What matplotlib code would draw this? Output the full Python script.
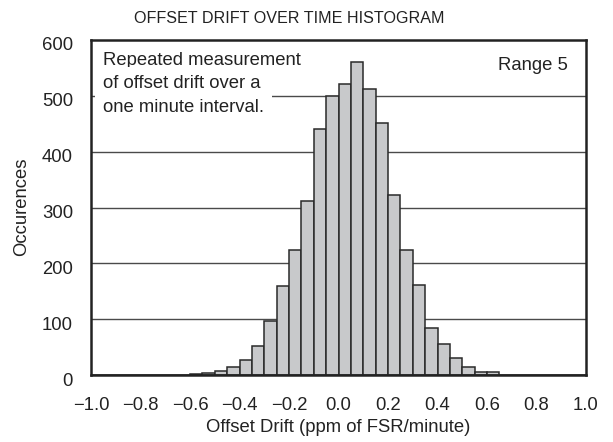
import matplotlib
matplotlib.use("Agg")
import matplotlib.pyplot as plt
import matplotlib.transforms as mtransforms
import numpy as np

plt.rcParams['font.family'] = ['Liberation Sans', 'DejaVu Sans']

# Data
bin_left = [-1.00, -0.95, -0.90, -0.85, -0.80, -0.75, -0.70, -0.65,
            -0.60, -0.55, -0.50, -0.45, -0.40, -0.35, -0.30, -0.25,
            -0.20, -0.15, -0.10, -0.05, 0.00, 0.05, 0.10, 0.15,
            0.20, 0.25, 0.30, 0.35, 0.40, 0.45, 0.50, 0.55,
            0.60, 0.65, 0.70, 0.75, 0.80, 0.85, 0.90, 0.95]
counts = [0, 0, 0, 0, 0, 0, 0, 0,
          2, 3, 7, 14, 26, 52, 96, 160,
          224, 311, 441, 499, 522, 561, 512, 452,
          322, 223, 161, 84, 55, 31, 14, 5,
          5, 0, 0, 0, 0, 0, 0, 0]
bin_width = 0.05
x_ticks = [-1.0, -0.8, -0.6, -0.4, -0.2, 0.0, 0.2, 0.4, 0.6, 0.8, 1.0]
y_ticks = [0, 100, 200, 300, 400, 500, 600]
title = "OFFSET DRIFT OVER TIME HISTOGRAM"
xlabel = "Offset Drift (ppm of FSR/minute)"
ylabel = "Occurences"
note_lines = ["Repeated measurement", "of offset drift over a", "one minute interval."]
range_text = "Range 5"

W, H = 613, 442
FS = 13.3
TXT = '#222222'
fig = plt.figure(figsize=(W / 100, H / 100), dpi=100)
ax = fig.add_axes([91 / W, 1 - 375 / H, (586 - 91) / W, (375 - 40) / H])

ax.set_xlim(-1.0, 1.0)
ax.set_ylim(0, 600)

for yv in y_ticks[1:-1]:
    ax.axhline(yv, color='#4a4a4a', lw=1.0, zorder=1)

ax.bar(bin_left, counts, width=bin_width, align='edge',
       color='#c8c9cb', edgecolor='#2a2a2a', linewidth=1.1, zorder=3)

for s in ax.spines.values():
    s.set_linewidth(1.8)
    s.set_color('#222222')
    s.set_zorder(5)

ax.set_xticks(x_ticks)
ax.set_xticklabels([f"{v:.1f}".replace('-', '\u2212') for v in x_ticks])
ax.set_yticks(y_ticks)
ax.set_yticklabels([str(v) for v in y_ticks])
ax.tick_params(axis='both', length=0, labelsize=FS, colors=TXT)
ax.tick_params(axis='x', pad=16)
ax.tick_params(axis='y', pad=13)
offset = mtransforms.ScaledTranslation(0, -4 / 100, fig.dpi_scale_trans)
for lab in ax.get_yticklabels():
    lab.set_transform(lab.get_transform() + offset)

fig.text(289 / W, 1 - 18.5 / H, title, ha='center', va='center',
         fontsize=11.6, color=TXT)
fig.text(338 / W, 1 - 427.5 / H, xlabel, ha='center', va='center',
         fontsize=FS, color=TXT)
fig.text(21.5 / W, 1 - 207 / H, ylabel, ha='center', va='center',
         rotation=90, fontsize=FS, color=TXT)

line_base = [65, 88.3, 111.6]
for i, (txt, yy) in enumerate(zip(note_lines, line_base)):
    kw = {}
    if i > 0:
        kw['bbox'] = dict(facecolor='white', edgecolor='none', pad=6)
    fig.text(103 / W, 1 - yy / H, txt, ha='left', va='baseline', fontsize=FS,
             color=TXT, zorder=10, **kw)

fig.text(568 / W, 1 - 70 / H, range_text, ha='right', va='baseline',
         fontsize=FS, color=TXT)

fig.savefig("out.png", dpi=100)
